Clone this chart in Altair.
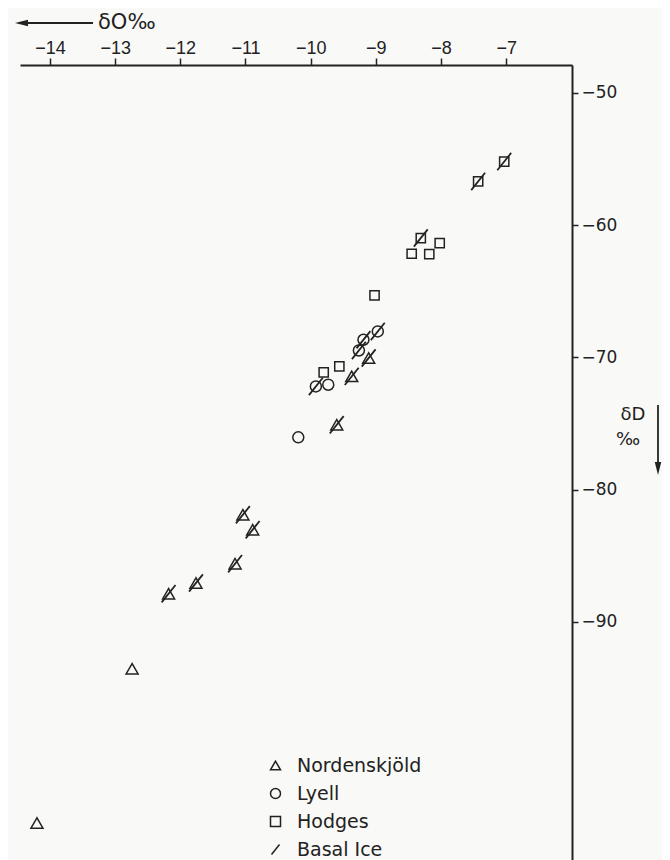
import altair as alt
import pandas as pd

# ---- data ----
site = ["Nordenskjöld"] * 10 + ["Lyell"] * 6 + ["Hodges"] * 9
d18o = [-9.11, -9.37, -9.60, -11.04, -10.89, -11.16, -11.76, -12.18, -12.74, -14.20,
        -8.97, -9.19, -9.26, -9.92, -9.73, -10.19,
        -7.03, -7.43, -8.31, -8.02, -8.45, -8.18, -9.02, -9.56, -9.80]
dd = [-70.05, -71.44, -75.1, -81.9, -83.03, -85.6, -87.06, -87.87, -93.54, -105.2,
      -68.04, -68.67, -69.48, -72.2, -72.07, -76.05,
      -55.2, -56.7, -60.98, -61.36, -62.17, -62.19, -65.32, -70.69, -71.14]
basal = [True, True, True, True, True, True, True, True, False, False,
         True, True, True, True, False, False,
         True, True, True, False, False, False, False, False, False]

legend_items = ["Nordenskjöld", "Lyell", "Hodges", "Basal Ice"]
x_ticks = [-14, -13, -12, -11, -10, -9, -8, -7]
y_ticks = [-50, -60, -70, -80, -90]

# ---- styling ----
INK = "#222222"
shapes = ["triangle-up", "circle", "square", "M-0.8,1L0.8,-1"]
size_of = {"Nordenskjöld": 144, "Lyell": 121, "Hodges": 85, "Basal Ice": 300}

df = pd.DataFrame({"site": site, "d18O": d18o, "dD": dd, "basal": basal})
df["sz"] = df["site"].map(size_of)
basal_df = df[df["basal"]].copy()
basal_df["site"] = "Basal Ice"
basal_df["sz"] = size_of["Basal Ice"]

x_enc = alt.X("d18O:Q",
              scale=alt.Scale(domain=[-14.46, -5.99], nice=False, zero=False),
              axis=alt.Axis(orient="top", values=x_ticks, title=None, grid=False,
                            format="d", labelFont="Liberation Sans", labelFontSize=18,
                            labelPadding=1, tickSize=7))
y_enc = alt.Y("dD:Q",
              scale=alt.Scale(domain=[-108, -47.9], nice=False, zero=False),
              axis=alt.Axis(orient="right", values=y_ticks, title=None, grid=False,
                            format="d", labelFont="DejaVu Sans", labelFontSize=17,
                            labelPadding=3, tickSize=6))

shape_enc = alt.Shape("site:N",
                      scale=alt.Scale(domain=legend_items, range=shapes),
                      legend=alt.Legend(orient="none", legendX=246, legendY=691,
                                        title=None, labelFont="DejaVu Sans",
                                        labelFontSize=19, labelColor=INK,
                                        symbolSize=100, symbolStrokeWidth=1.5,
                                        symbolStrokeColor=INK,
                                        symbolFillColor="transparent",
                                        rowPadding=8, labelOffset=12, padding=0))
size_enc = alt.Size("sz:Q", scale=None)

points = alt.Chart(df).mark_point(filled=False, strokeWidth=1.5, color=INK, opacity=1).encode(
    x=x_enc, y=y_enc, shape=shape_enc, size=size_enc)

basal_lines = alt.Chart(basal_df).mark_point(filled=False, strokeWidth=1.8, color=INK, opacity=1).encode(
    x=x_enc, y=y_enc, shape=shape_enc, size=size_enc)

one = pd.DataFrame({"k": [0]})

x_title = alt.Chart(one).mark_text(align="left", baseline="middle", font="DejaVu Sans",
                                   fontSize=21, color=INK).encode(
    x=alt.value(78), y=alt.value(-42), text=alt.value("δO‰"))
x_arrow_line = alt.Chart(one).mark_rule(color=INK, strokeWidth=1.8).encode(
    x=alt.value(2), x2=alt.value(73), y=alt.value(-42))
x_arrow_head = alt.Chart(one).mark_point(shape="M-1,0L1,-0.5L1,0.5Z", filled=True, size=169,
                                         color=INK, opacity=1).encode(
    x=alt.value(1.5), y=alt.value(-42))

y_title1 = alt.Chart(one).mark_text(align="center", baseline="middle", font="DejaVu Sans",
                                    fontSize=18, color=INK).encode(
    x=alt.value(613), y=alt.value(350), text=alt.value("δD"))
y_title2 = alt.Chart(one).mark_text(align="center", baseline="middle", font="DejaVu Sans",
                                    fontSize=18, color=INK).encode(
    x=alt.value(608), y=alt.value(375), text=alt.value("‰"))
y_arrow_line = alt.Chart(one).mark_rule(color=INK, strokeWidth=1.8).encode(
    x=alt.value(638), y=alt.value(340), y2=alt.value(404))
y_arrow_head = alt.Chart(one).mark_point(shape="M0,1L-0.5,-1L0.5,-1Z", filled=True, size=169,
                                         color=INK, opacity=1).encode(
    x=alt.value(638), y=alt.value(403.5))

chart = alt.layer(points, basal_lines, x_title, x_arrow_line, x_arrow_head,
                  y_title1, y_title2, y_arrow_line, y_arrow_head).properties(
    width=552, height=795,
    autosize=alt.AutoSizeParams(type="none"),
    padding={"left": 12, "top": 57, "right": 90, "bottom": 0},
    background="#f9f9f7",
).configure_view(stroke=None).configure_axis(
    domainColor=INK, domainWidth=2, tickColor=INK, tickWidth=1.5, labelColor=INK
)

chart.save("out.html", embed_options={"renderer": "svg", "actions": False})
